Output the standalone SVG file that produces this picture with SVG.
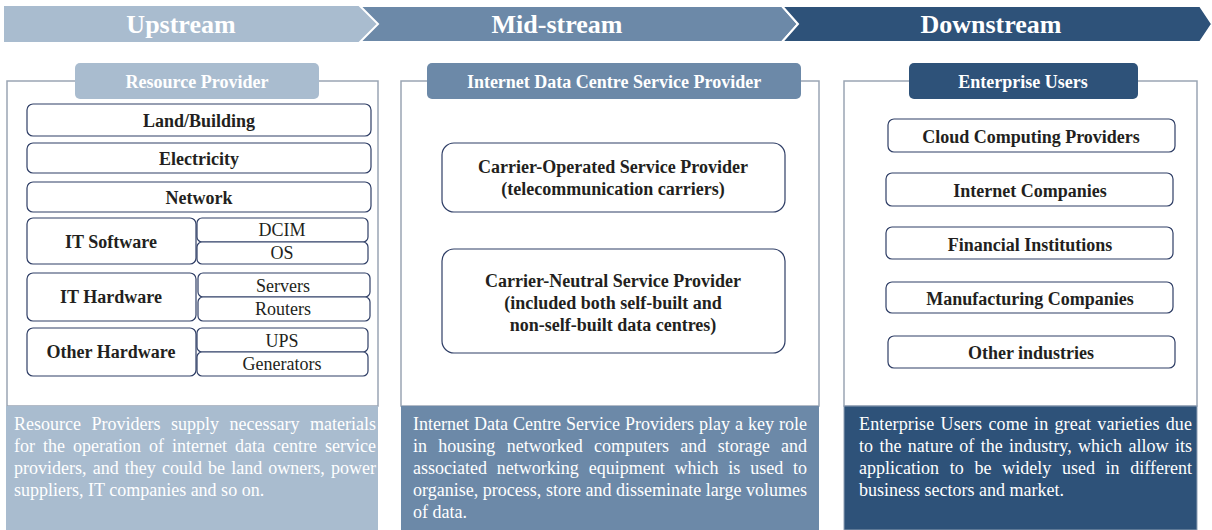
<svg xmlns="http://www.w3.org/2000/svg" width="1212" height="530" viewBox="0 0 1212 530">
<style>
.bn{font-family:"Liberation Serif","Times New Roman",serif;font-weight:bold;font-size:26px;fill:#fff;text-anchor:middle}
.hd{font-family:"Liberation Serif","Times New Roman",serif;font-weight:bold;font-size:18px;fill:#fff;text-anchor:middle}
.b{font-family:"Liberation Serif","Times New Roman",serif;font-weight:bold;font-size:18px;fill:#231f20;text-anchor:middle}
.r{font-family:"Liberation Serif","Times New Roman",serif;font-size:18px;fill:#231f20;text-anchor:middle}
.d{font-family:"Liberation Serif","Times New Roman",serif;font-size:18px;fill:#fff}
.box{fill:#fff;stroke:#2f3e66;stroke-width:1.2}
.panel{fill:#fff;stroke:#9aa5b4;stroke-width:1.5}
</style>
<rect width="1212" height="530" fill="#fff"/>
<g id="banner">
<polygon points="4,6 360,6 378,24 360,42 4,42" fill="#a9bccf"/>
<polygon points="360,6 782,6 798,24 782,42 360,42 378,24" fill="#6c89a8" stroke="#fff" stroke-width="2"/>
<polygon points="782,6 1200,6 1212,24 1200,42 782,42 798,24" fill="#2e5279" stroke="#fff" stroke-width="2"/>
<text class="bn" x="181" y="33">Upstream</text>
<text class="bn" x="557" y="33">Mid-stream</text>
<text class="bn" x="991" y="33">Downstream</text>
</g>
<g id="upstream">
<rect class="panel" x="7" y="81" width="371" height="325"/>
<rect x="6" y="406" width="372" height="124" fill="#a9bccf"/>
<rect x="75" y="63" width="244" height="36" rx="5" fill="#a9bccf"/>
<text class="hd" x="197" y="88">Resource Provider</text>
<rect class="box" x="27" y="104" width="344" height="32" rx="6"/>
<text class="b" x="199" y="127">Land/Building</text>
<rect class="box" x="27" y="143" width="344" height="30" rx="6"/>
<text class="b" x="199" y="165">Electricity</text>
<rect class="box" x="27" y="182" width="344" height="30" rx="6"/>
<text class="b" x="199" y="204">Network</text>
<rect class="box" x="27" y="218" width="169" height="46" rx="6"/>
<text class="b" x="111" y="248">IT Software</text>
<rect class="box" x="197" y="218" width="171" height="24" rx="5"/>
<text class="r" x="282" y="236">DCIM</text>
<rect class="box" x="197" y="242" width="171" height="22" rx="5"/>
<text class="r" x="282" y="259">OS</text>
<rect class="box" x="27" y="273" width="169" height="48" rx="6"/>
<text class="b" x="111" y="303">IT Hardware</text>
<rect class="box" x="198" y="273" width="172" height="24" rx="5"/>
<text class="r" x="283" y="292">Servers</text>
<rect class="box" x="198" y="297" width="172" height="24" rx="5"/>
<text class="r" x="283" y="315">Routers</text>
<rect class="box" x="27" y="328" width="169" height="48" rx="6"/>
<text class="b" x="111" y="358">Other Hardware</text>
<rect class="box" x="197" y="328" width="171" height="24" rx="5"/>
<text class="r" x="282" y="347">UPS</text>
<rect class="box" x="197" y="352" width="171" height="24" rx="5"/>
<text class="r" x="282" y="370">Generators</text>
<text class="d" x="14" y="430" word-spacing="6" textLength="362" lengthAdjust="spacing">Resource Providers supply necessary materials</text>
<text class="d" x="14" y="452" word-spacing="3.5" textLength="362" lengthAdjust="spacing">for the operation of internet data centre service</text>
<text class="d" x="14" y="474" word-spacing="1.6" textLength="362" lengthAdjust="spacing">providers, and they could be land owners, power</text>
<text class="d" x="14" y="496">suppliers, IT companies and so on.</text>
</g>
<g id="midstream">
<rect class="panel" x="401" y="81" width="418" height="325"/>
<rect x="401" y="406" width="418" height="124" fill="#6c89a8"/>
<rect x="427" y="63" width="374" height="36" rx="5" fill="#6c89a8"/>
<text class="hd" x="614" y="88">Internet Data Centre Service Provider</text>
<rect class="box" x="442" y="143" width="343" height="69" rx="12"/>
<text class="b" x="613" y="173">Carrier-Operated Service Provider</text>
<text class="b" x="613" y="195">(telecommunication carriers)</text>
<rect class="box" x="442" y="249" width="343" height="104" rx="12"/>
<text class="b" x="613" y="287">Carrier-Neutral Service Provider</text>
<text class="b" x="613" y="309">(included both self-built and</text>
<text class="b" x="613" y="331">non-self-built data centres)</text>
<text class="d" x="413" y="430" word-spacing="0.5" textLength="394" lengthAdjust="spacing">Internet Data Centre Service Providers play a key role</text>
<text class="d" x="413" y="452" word-spacing="6.8" textLength="394" lengthAdjust="spacing">in housing networked computers and storage and</text>
<text class="d" x="413" y="474" word-spacing="5.3" textLength="394" lengthAdjust="spacing">associated networking equipment which is used to</text>
<text class="d" x="413" y="496" textLength="394" lengthAdjust="spacing">organise, process, store and disseminate large volumes</text>
<text class="d" x="413" y="518">of data.</text>
</g>
<g id="downstream">
<rect class="panel" x="844" y="81" width="353" height="325"/>
<rect x="844" y="406" width="353" height="124" fill="#2e5279" stroke="#8fa0b5" stroke-width="1"/>
<rect x="909" y="63" width="229" height="36" rx="5" fill="#2e5279"/>
<text class="hd" x="1023" y="88">Enterprise Users</text>
<rect class="box" x="888" y="119" width="287" height="33" rx="6"/>
<text class="b" x="1031" y="143">Cloud Computing Providers</text>
<rect class="box" x="886" y="173" width="287" height="33" rx="6"/>
<text class="b" x="1030" y="197">Internet Companies</text>
<rect class="box" x="886" y="227" width="287" height="32" rx="6"/>
<text class="b" x="1030" y="251">Financial Institutions</text>
<rect class="box" x="886" y="282" width="287" height="31" rx="6"/>
<text class="b" x="1030" y="305">Manufacturing Companies</text>
<rect class="box" x="888" y="336" width="287" height="32" rx="6"/>
<text class="b" x="1031" y="359">Other industries</text>
<text class="d" x="859" y="430" word-spacing="1.5" textLength="333" lengthAdjust="spacing">Enterprise Users come in great varieties due</text>
<text class="d" x="859" y="452" word-spacing="1.8" textLength="333" lengthAdjust="spacing">to the nature of the industry, which allow its</text>
<text class="d" x="859" y="474" word-spacing="6.2" textLength="333" lengthAdjust="spacing">application to be widely used in different</text>
<text class="d" x="859" y="496">business sectors and market.</text>
</g>
<g id="connectors"></g>
</svg>
